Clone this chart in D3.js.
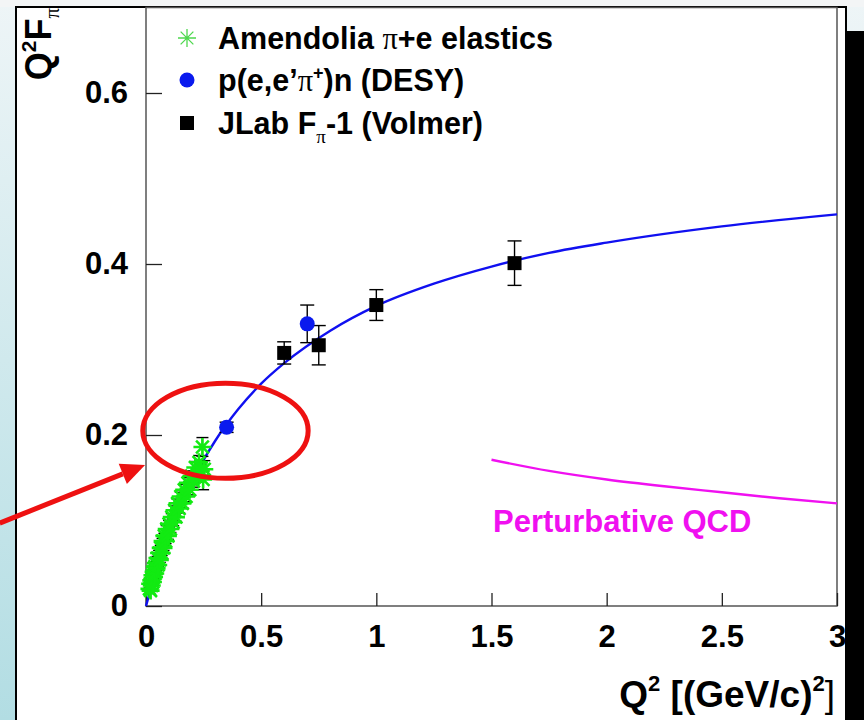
<!DOCTYPE html>
<html>
<head>
<meta charset="utf-8">
<script src="https://cdn.jsdelivr.net/npm/d3@7"></script>
<style>
  body { margin: 0; background: #fff; }
  svg { display: block; font-family: "Liberation Sans", Arial, Helvetica, sans-serif; font-weight: bold; }
</style>
</head>
<body>
<svg id="chart" width="864" height="720"></svg>
<script>
// ---- data ----
const xTicks = [0, 0.5, 1, 1.5, 2, 2.5, 3];
const yTicks = [0, 0.2, 0.4, 0.6];

// monopole-like fit curve (blue)
const fitQ2  = [0, 0.05, 0.1, 0.2, 0.3, 0.4, 0.5, 0.6, 0.8, 1.0, 1.25, 1.5, 1.75, 2.0, 2.5, 3.0];
const fitVal = [0, 0.046, 0.084, 0.146, 0.193, 0.230, 0.260, 0.284, 0.322, 0.351, 0.377, 0.397, 0.413, 0.425, 0.444, 0.458];

// perturbative QCD curve (magenta)
const pqcdQ2  = [1.5, 1.75, 2.0, 2.25, 2.5, 2.75, 3.0];
const pqcdVal = [0.171, 0.158, 0.148, 0.140, 0.133, 0.126, 0.120];

// Amendolia pi+e elastics (green stars)
const amQ2  = [0.015, 0.018, 0.020, 0.023, 0.025, 0.028, 0.030, 0.033, 0.035, 0.038, 0.040, 0.043, 0.046, 0.050,
               0.053, 0.057, 0.060, 0.064, 0.068, 0.072, 0.076, 0.080, 0.085, 0.090, 0.095, 0.100, 0.106, 0.112,
               0.118, 0.124, 0.130, 0.137, 0.144, 0.151, 0.158, 0.166, 0.174, 0.182, 0.190, 0.198, 0.206, 0.214,
               0.222, 0.230, 0.238, 0.245, 0.248, 0.253];
const amVal = [0.020, 0.026, 0.018, 0.030, 0.024, 0.036, 0.028, 0.040, 0.034, 0.046, 0.038, 0.050, 0.044, 0.056,
               0.048, 0.062, 0.054, 0.068, 0.062, 0.076, 0.068, 0.082, 0.076, 0.090, 0.082, 0.096, 0.090, 0.104,
               0.098, 0.112, 0.104, 0.120, 0.114, 0.128, 0.120, 0.136, 0.128, 0.144, 0.136, 0.152, 0.146, 0.162,
               0.152, 0.168, 0.158, 0.186, 0.148, 0.160];
const amErr = [0.001, 0.001, 0.001, 0.001, 0.001, 0.001, 0.002, 0.002, 0.002, 0.002, 0.002, 0.002, 0.002, 0.002,
               0.002, 0.003, 0.003, 0.003, 0.003, 0.003, 0.003, 0.003, 0.003, 0.004, 0.004, 0.004, 0.004, 0.004,
               0.004, 0.005, 0.005, 0.005, 0.005, 0.005, 0.005, 0.006, 0.006, 0.006, 0.006, 0.006, 0.007, 0.007,
               0.007, 0.008, 0.008, 0.011, 0.012, 0.010];

// p(e,e'pi+)n DESY (blue circles)
const desyQ2  = [0.35, 0.70];
const desyVal = [0.209, 0.330];
const desyErr = [0.006, 0.022];

// JLab Fpi-1 Volmer (black squares)
const jlabQ2  = [0.60, 0.75, 1.00, 1.60];
const jlabVal = [0.296, 0.305, 0.352, 0.401];
const jlabErr = [0.013, 0.023, 0.018, 0.026];

// annotation (data units): red ellipse and arrow
const ringCenter = [0.345, 0.205];
const ringRadii  = [0.359, 0.0556];
const arrowFrom  = [-0.635, 0.097];
const arrowTo    = [-0.004, 0.165];

// ---- drawing ----
const svg = d3.select('#chart');
const W = 864, H = 720;

const defs = svg.append('defs');
const grad = defs.append('linearGradient')
    .attr('id', 'bg')
    .attr('x1', 0).attr('y1', 0).attr('x2', 0).attr('y2', 1);
grad.append('stop').attr('offset', '0%').attr('stop-color', '#eef5f7');
grad.append('stop').attr('offset', '100%').attr('stop-color', '#b2dde3');

svg.append('rect').attr('width', W).attr('height', H).attr('fill', 'url(#bg)');
svg.append('rect').attr('x', 0).attr('y', 0).attr('width', W).attr('height', 7).attr('fill', '#f3f5f6');

// white panel
svg.append('rect')
    .attr('x', 16).attr('y', 7).attr('width', 830).attr('height', H - 7)
    .attr('fill', '#fff');
svg.append('path')
    .attr('d', `M16,${H}V7H846V31`)
    .attr('fill', 'none').attr('stroke', '#000').attr('stroke-width', 2);

const x = d3.scaleLinear().domain([0, 3]).range([146, 837]);
const y = d3.scaleLinear().domain([0, 0.7]).range([606, 7.5]);

// frame
svg.append('rect')
    .attr('x', x(0)).attr('y', y(0.7))
    .attr('width', x(3) - x(0)).attr('height', y(0) - y(0.7))
    .attr('fill', 'none').attr('stroke', '#555').attr('stroke-width', 1.5);

const yAxis = svg.append('g')
    .attr('transform', `translate(${x(0)},0)`)
    .call(d3.axisLeft(y).tickValues(yTicks).tickFormat(d => String(d))
        .tickSize(-16).tickSizeOuter(0).tickPadding(18));
const xAxis = svg.append('g')
    .attr('transform', `translate(0,${y(0)})`)
    .call(d3.axisBottom(x).tickValues(xTicks).tickFormat(d => String(d))
        .tickSize(-13).tickSizeOuter(0).tickPadding(19));
[yAxis, xAxis].forEach(g => {
    g.select('.domain').remove();
    g.selectAll('.tick line').attr('stroke', '#222').attr('stroke-width', 1.3);
    g.selectAll('.tick text')
        .attr('fill', '#000')
        .style('font-size', '31px')
        .style('font-family', '"Liberation Sans", Arial, sans-serif')
        .style('font-weight', 'bold');
});

// axis titles
const yTitle = svg.append('text')
    .attr('transform', 'translate(51,8) rotate(-90)')
    .attr('text-anchor', 'end')
    .style('font-size', '36px');
yTitle.append('tspan').text('Q');
yTitle.append('tspan').attr('dy', -15).style('font-size', '21px').text('2');
yTitle.append('tspan').attr('dy', 15).text('F');
yTitle.append('tspan').attr('dy', 8).style('font-size', '21px').style('font-family', '"Liberation Serif", serif').style('font-weight', 'normal').text('π');

const xTitle = svg.append('text')
    .attr('x', 835).attr('y', 707)
    .attr('text-anchor', 'end')
    .style('font-size', '37px');
xTitle.append('tspan').text('Q');
xTitle.append('tspan').attr('dy', -16).style('font-size', '22px').text('2');
xTitle.append('tspan').attr('dy', 16).text(' [(GeV/c)');
xTitle.append('tspan').attr('dy', -16).style('font-size', '22px').text('2');
xTitle.append('tspan').attr('dy', 16).style('font-weight', 'normal').text(']');

// curves
const line = d3.line().x(d => x(d[0])).y(d => y(d[1])).curve(d3.curveMonotoneX);
svg.append('path')
    .datum(d3.zip(fitQ2, fitVal))
    .attr('d', line)
    .attr('fill', 'none').attr('stroke', '#1010f0').attr('stroke-width', 2.4);
svg.append('path')
    .datum(d3.zip(pqcdQ2, pqcdVal))
    .attr('d', line)
    .attr('fill', 'none').attr('stroke', '#f010f0').attr('stroke-width', 2.4);

// error bars
function errorBars(q2, val, err, cap) {
    const g = svg.append('g').attr('stroke', '#000').attr('stroke-width', 1.4);
    q2.forEach((q, i) => {
        const cx = x(q), y1 = y(val[i] + err[i]), y2 = y(val[i] - err[i]);
        g.append('line').attr('x1', cx).attr('x2', cx).attr('y1', y1).attr('y2', y2);
        g.append('line').attr('x1', cx - cap).attr('x2', cx + cap).attr('y1', y1).attr('y2', y1);
        g.append('line').attr('x1', cx - cap).attr('x2', cx + cap).attr('y1', y2).attr('y2', y2);
    });
}
errorBars(amQ2, amVal, amErr, 6);
errorBars(desyQ2, desyVal, desyErr, 7);
errorBars(jlabQ2, jlabVal, jlabErr, 7);

function starPath(r) {
    const a = r * 0.707;
    return `M${-r},0L${r},0M0,${-r}L0,${r}M${-a},${-a}L${a},${a}M${-a},${a}L${a},${-a}`;
}

// markers
svg.append('g').selectAll('path')
    .data(d3.zip(amQ2, amVal))
    .enter().append('path')
    .attr('transform', d => `translate(${x(d[0])},${y(d[1])})`)
    .attr('d', starPath(9))
    .attr('fill', 'none').attr('stroke', '#12ea12').attr('stroke-width', 2.6);

svg.append('g').selectAll('circle')
    .data(d3.zip(desyQ2, desyVal))
    .enter().append('circle')
    .attr('cx', d => x(d[0])).attr('cy', d => y(d[1])).attr('r', 7.5)
    .attr('fill', '#0a1aee');

svg.append('g').selectAll('rect')
    .data(d3.zip(jlabQ2, jlabVal))
    .enter().append('rect')
    .attr('x', d => x(d[0]) - 7).attr('y', d => y(d[1]) - 7)
    .attr('width', 14).attr('height', 14)
    .attr('fill', '#000');

// legend
const lg = svg.append('g').style('font-size', '30.5px');
lg.append('path').attr('transform', 'translate(187,38)').attr('d', starPath(9))
    .attr('fill', 'none').attr('stroke', '#4ed84e').attr('stroke-width', 1.3);
lg.append('circle').attr('cx', 187).attr('cy', 80).attr('r', 7.5).attr('fill', '#0a1aee');
lg.append('rect').attr('x', 180).attr('y', 116).attr('width', 14).attr('height', 14).attr('fill', '#000');

const t1 = lg.append('text').attr('x', 218).attr('y', 49);
t1.append('tspan').text('Amendolia ');
t1.append('tspan').style('font-family', '"Liberation Serif", serif').style('font-weight', 'normal').text('π');
t1.append('tspan').text('+e elastics');

const t2 = lg.append('text').attr('x', 218).attr('y', 91);
t2.append('tspan').text('p(e,e’');
t2.append('tspan').style('font-family', '"Liberation Serif", serif').style('font-weight', 'normal').text('π');
t2.append('tspan').attr('dy', -12).style('font-size', '18px').text('+');
t2.append('tspan').attr('dy', 12).text(')n (DESY)');

const t3 = lg.append('text').attr('x', 218).attr('y', 134);
t3.append('tspan').text('JLab F');
t3.append('tspan').attr('dy', 9).style('font-size', '19px').style('font-family', '"Liberation Serif", serif').style('font-weight', 'normal').text('π');
t3.append('tspan').attr('dy', -9).text('-1 (Volmer)');

svg.append('text')
    .attr('x', 493).attr('y', 532)
    .attr('fill', '#f010f0')
    .style('font-size', '31px')
    .text('Perturbative QCD');

// red annotation
svg.append('ellipse')
    .attr('cx', x(ringCenter[0])).attr('cy', y(ringCenter[1]))
    .attr('rx', x(ringRadii[0]) - x(0)).attr('ry', y(0) - y(ringRadii[1]))
    .attr('fill', 'none').attr('stroke', '#ee1111').attr('stroke-width', 5);

const ax0 = x(arrowFrom[0]), ay0 = y(arrowFrom[1]);
const ax1 = x(arrowTo[0]),   ay1 = y(arrowTo[1]);
const ang = Math.atan2(ay1 - ay0, ax1 - ax0);
const headLen = 24, headW = 11;
const bx = ax1 - headLen * Math.cos(ang), by = ay1 - headLen * Math.sin(ang);
svg.append('line')
    .attr('x1', ax0).attr('y1', ay0).attr('x2', bx).attr('y2', by)
    .attr('stroke', '#ee1111').attr('stroke-width', 5);
svg.append('path')
    .attr('d', `M${ax1},${ay1}L${bx + headW * Math.sin(ang)},${by - headW * Math.cos(ang)}L${bx - headW * Math.sin(ang)},${by + headW * Math.cos(ang)}Z`)
    .attr('fill', '#ee1111');

// black block on the right edge
svg.append('rect').attr('x', 845).attr('y', 31).attr('width', W - 845).attr('height', H - 31).attr('fill', '#000');
</script>
</body>
</html>
